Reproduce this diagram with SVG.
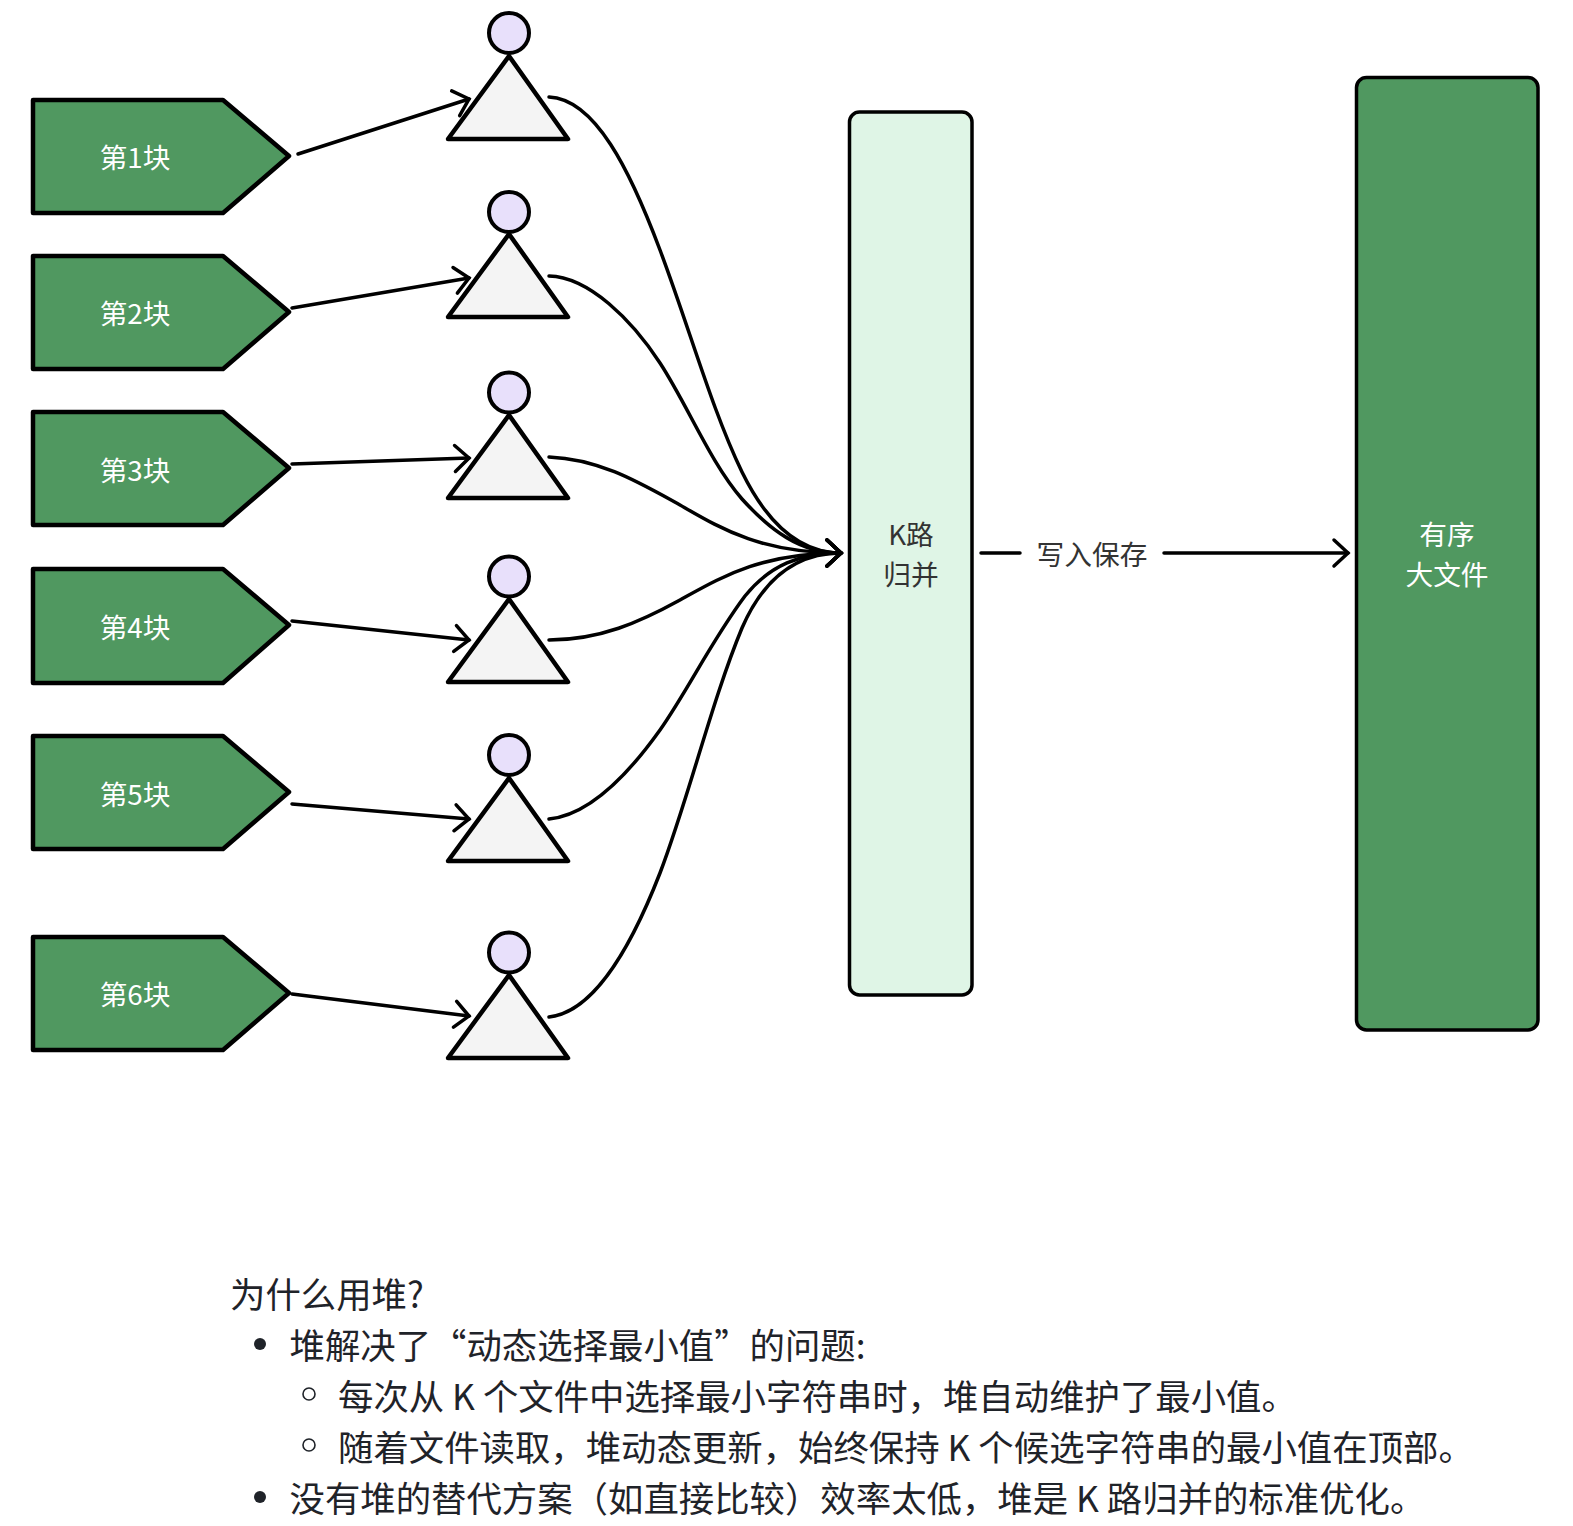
<svg xmlns="http://www.w3.org/2000/svg" width="1573" height="1526" viewBox="0 0 1573 1526">
<style>
text{font-family:"Noto Sans CJK SC","Noto Sans",sans-serif}
.p{fill:#509860;stroke:#000;stroke-width:4.5;stroke-linejoin:round}
.w{fill:#fff;font-size:27.7px;text-anchor:middle}
.d{fill:#333;font-size:27.7px;text-anchor:middle}
.h{fill:#e8e0fb;stroke:#000;stroke-width:4}
.b{fill:#f4f4f4;stroke:#000;stroke-width:4.5;stroke-linejoin:round}
.c{fill:none;stroke:#000;stroke-width:3.5;stroke-linecap:round}
.t{fill:#1f2329;font-size:35.4px}
</style>
<defs><marker id="a" markerUnits="userSpaceOnUse" markerWidth="24" markerHeight="32" refX="18" refY="16" orient="auto"><path d="M4 3L18 16L4 29" fill="none" stroke="#000" stroke-width="3.5" stroke-linecap="round"/></marker></defs>
<g id="block1"><path class="p" d="M33 100H223L289 156L223 213H33Z"/><text class="w" x="135" y="168">第1块</text></g>
<g id="block2"><path class="p" d="M33 256H223L289 312L223 369H33Z"/><text class="w" x="135" y="324">第2块</text></g>
<g id="block3"><path class="p" d="M33 412H223L289 468L223 525H33Z"/><text class="w" x="135" y="481">第3块</text></g>
<g id="block4"><path class="p" d="M33 569H223L289 625L223 683H33Z"/><text class="w" x="135" y="637.500">第4块</text></g>
<g id="block5"><path class="p" d="M33 736H223L289 792L223 849H33Z"/><text class="w" x="135" y="804.500">第5块</text></g>
<g id="block6"><path class="p" d="M33 937H223L289 993L223 1050H33Z"/><text class="w" x="135" y="1005">第6块</text></g>
<g id="heap1"><path class="b" d="M509 56L568 139H448Z"/><circle class="h" cx="509" cy="33" r="20"/></g>
<g id="heap2"><path class="b" d="M509 234L568 317H448Z"/><circle class="h" cx="509" cy="212" r="20"/></g>
<g id="heap3"><path class="b" d="M509 415L568 498H448Z"/><circle class="h" cx="509" cy="392.500" r="20"/></g>
<g id="heap4"><path class="b" d="M509 599L568 682H448Z"/><circle class="h" cx="509" cy="576.500" r="20"/></g>
<g id="heap5"><path class="b" d="M509 778L568 861H448Z"/><circle class="h" cx="509" cy="755" r="20"/></g>
<g id="heap6"><path class="b" d="M509 975L568 1058H448Z"/><circle class="h" cx="509" cy="952.500" r="20"/></g>
<g id="merge"><rect x="849.500" y="112" width="122.500" height="883" rx="10" fill="#dff5e6" stroke="#000" stroke-width="3.500"/><text class="d" x="911" y="545">K路</text><text class="d" x="911" y="585">归并</text></g>
<g id="file"><rect x="1356.500" y="77.500" width="181.500" height="952.500" rx="10" fill="#509860" stroke="#000" stroke-width="3.500"/><text class="w" x="1447" y="545">有序</text><text class="w" x="1447" y="585">大文件</text></g>
<g id="connectors">
<path class="c" marker-end="url(#a)" d="M298 154L469 99"/>
<path class="c" marker-end="url(#a)" d="M292 308L469 278"/>
<path class="c" marker-end="url(#a)" d="M292 464L469 458"/>
<path class="c" marker-end="url(#a)" d="M292 621L469 640"/>
<path class="c" marker-end="url(#a)" d="M292 804L469 819"/>
<path class="c" marker-end="url(#a)" d="M292 994L469 1016"/>
<path class="c" marker-end="url(#a)" d="M549 97C595 99 630 170 660 250C690 330 712 410 742 472C768 525 800 553 841 553"/>
<path class="c" marker-end="url(#a)" d="M549 276C589 277 632 320 660 363C688 406 710 462 742 499C770 530 800 553 841 553"/>
<path class="c" marker-end="url(#a)" d="M549 457C600 459 640 483 680 505C720 528 760 553 841 553"/>
<path class="c" marker-end="url(#a)" d="M549 640C600 640 640 622 680 600C720 578 760 553 841 553"/>
<path class="c" marker-end="url(#a)" d="M549 819C590 815 630 772 660 730C688 690 712 640 745 596C770 565 800 553 841 553"/>
<path class="c" marker-end="url(#a)" d="M549 1017C595 1012 632 945 660 873C688 800 712 700 742 628C765 575 800 553 841 553"/>
<path class="c" d="M981 553H1020"/>
<path class="c" marker-end="url(#a)" d="M1164 553H1348"/>
</g>
<text class="d" x="1092" y="565">写入保存</text>
<text class="t" x="230" y="1307.500">为什么用堆?</text>
<circle cx="260" cy="1344" r="6" fill="#1f2329"/>
<text class="t" x="289.500" y="1358.500">堆解决了“动态选择最小值”的问题:</text>
<circle cx="309" cy="1394" r="6" fill="none" stroke="#1f2329" stroke-width="1.6"/>
<text class="t" x="338" y="1410">每次从 K 个文件中选择最小字符串时，堆自动维护了最小值。</text>
<circle cx="309" cy="1445" r="6" fill="none" stroke="#1f2329" stroke-width="1.6"/>
<text class="t" x="338" y="1461">随着文件读取，堆动态更新，始终保持 K 个候选字符串的最小值在顶部。</text>
<circle cx="260" cy="1497" r="6" fill="#1f2329"/>
<text class="t" x="289.500" y="1512">没有堆的替代方案（如直接比较）效率太低，堆是 K 路归并的标准优化。</text>
</svg>
